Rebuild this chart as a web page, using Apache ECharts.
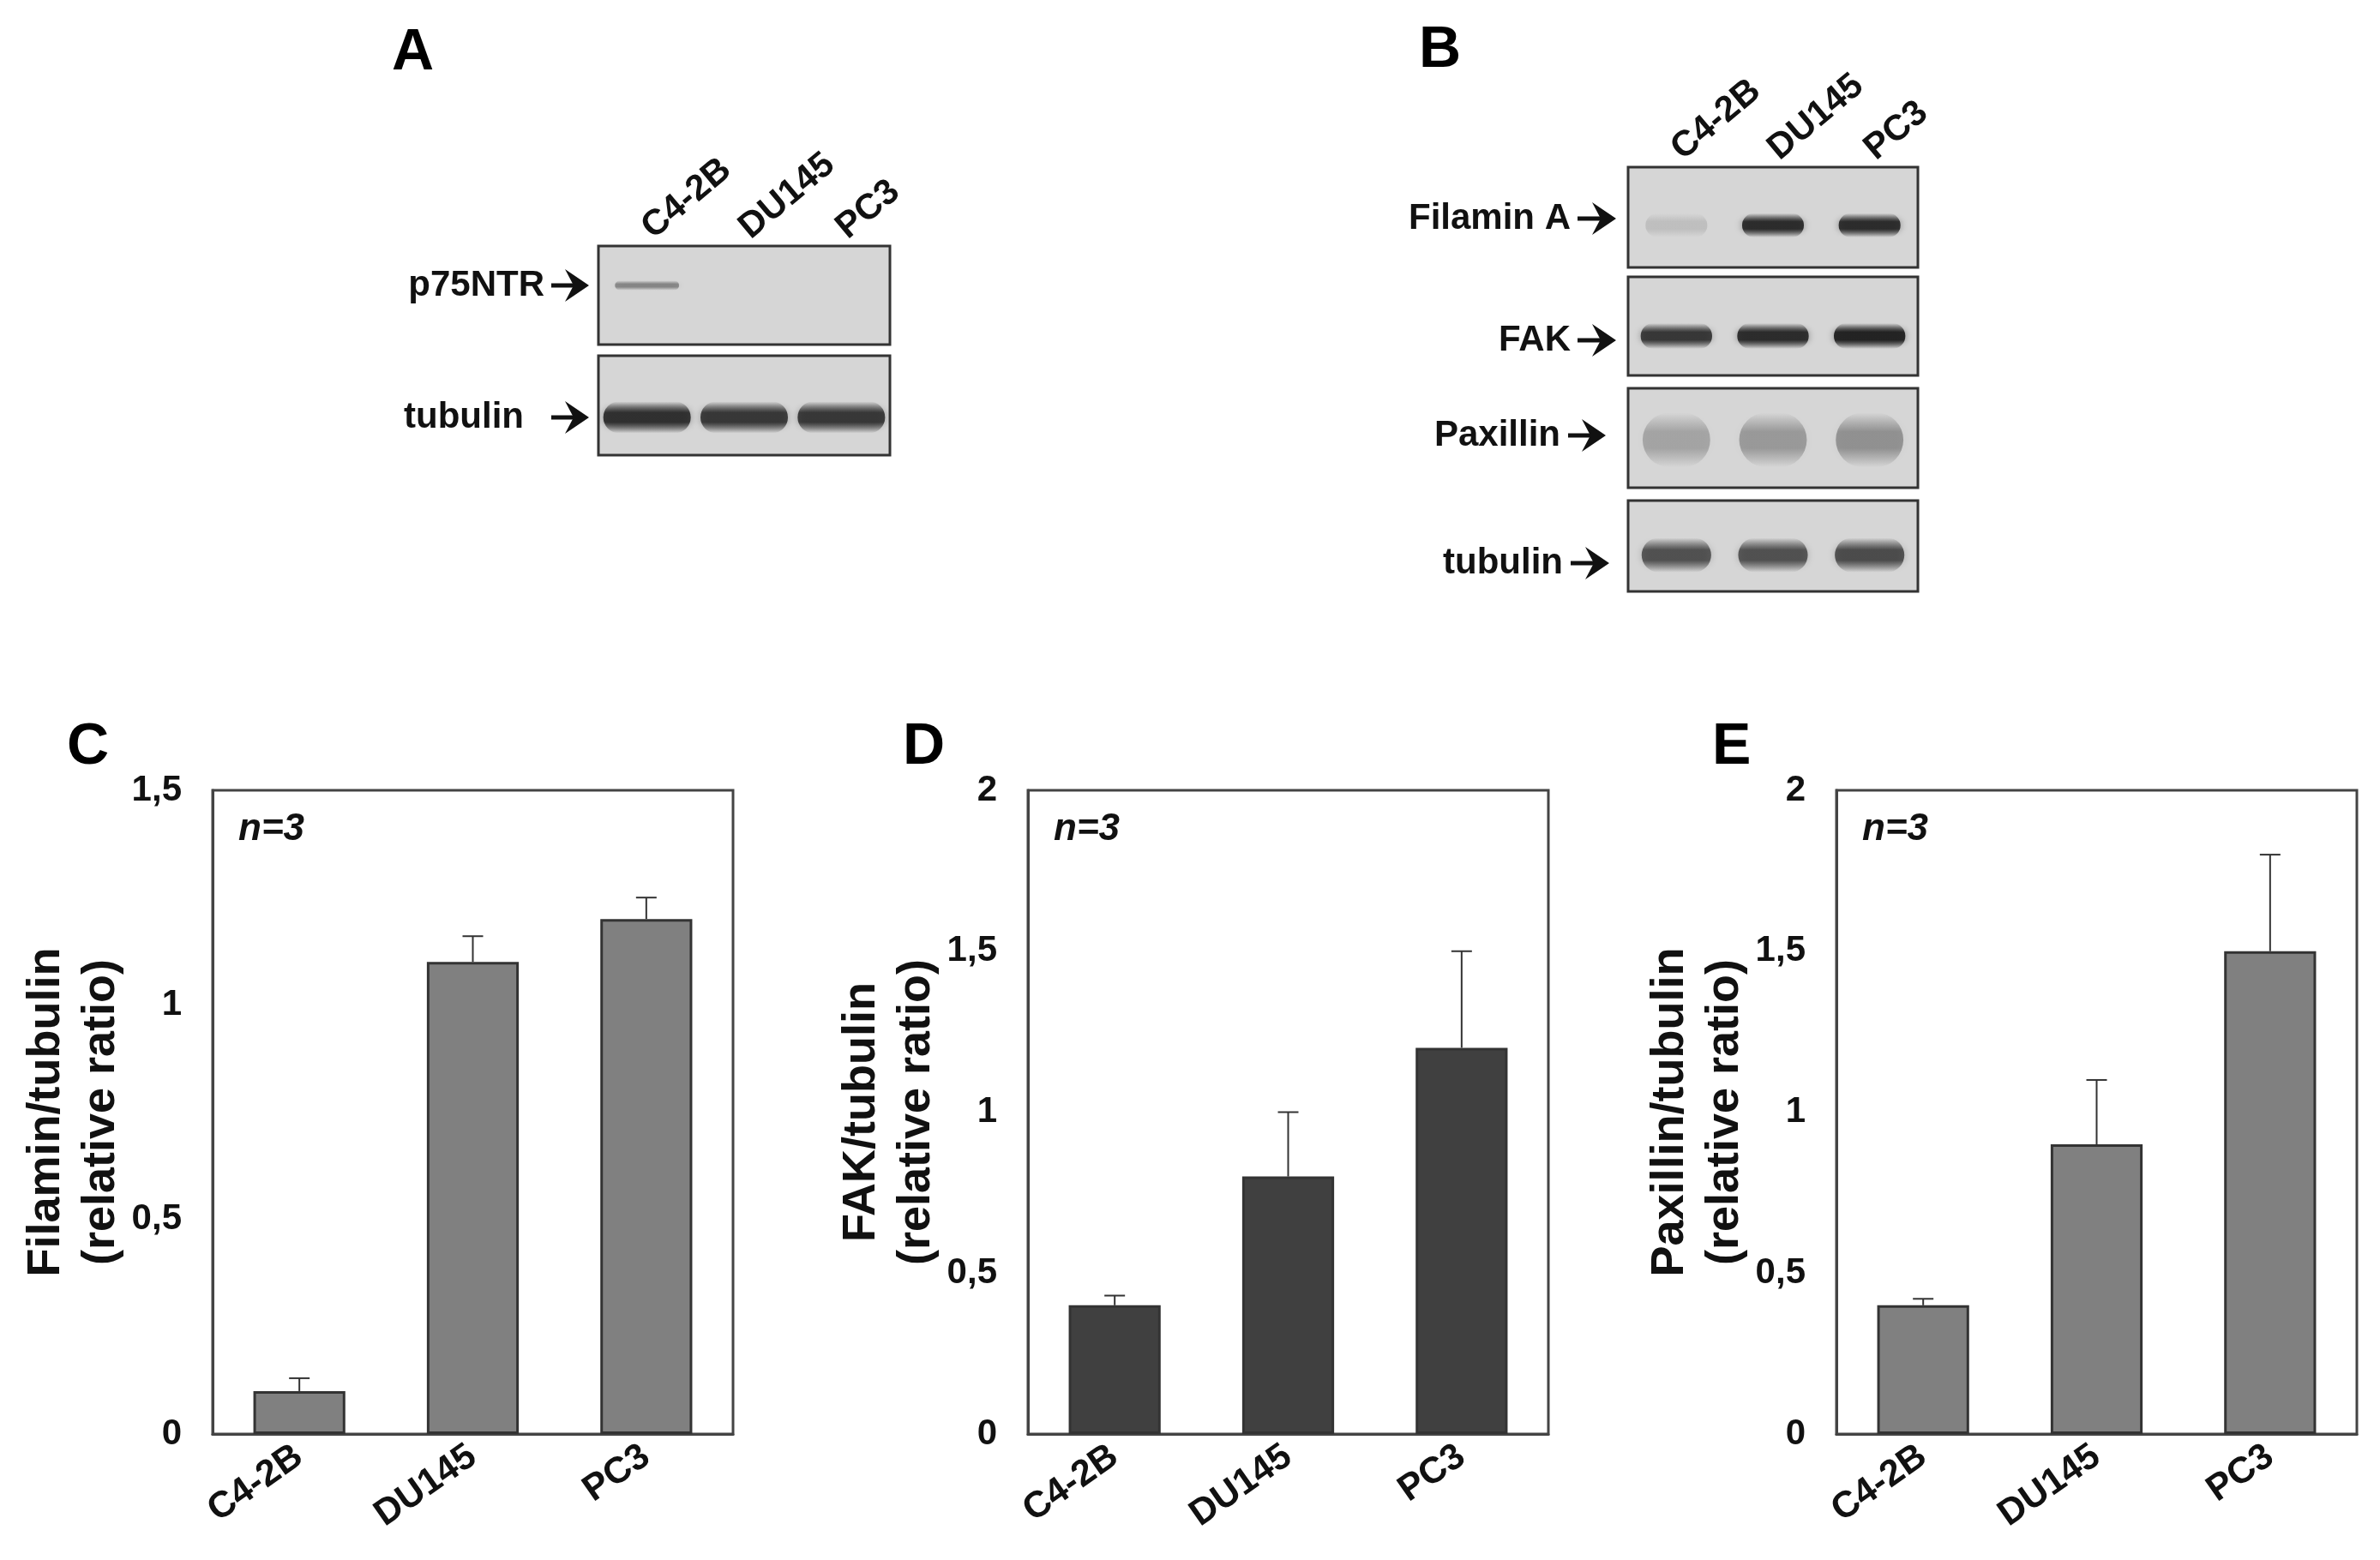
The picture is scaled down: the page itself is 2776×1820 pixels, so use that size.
<!DOCTYPE html>
<html>
<head>
<meta charset="utf-8">
<script src="https://cdn.jsdelivr.net/npm/echarts@6/dist/echarts.min.js"></script>
<style>
html, body { margin: 0; padding: 0; background: #fff; }
#main { width: 2776px; height: 1820px; }
</style>
</head>
<body>
<div id="main"></div>
<script>
// lanes / categories
var lanes = ['C4-2B', 'DU145', 'PC3'];

// western blot band intensities (0 = nothing, 1 = black)
var p75Intensity      = [0.4, 0, 0];
var tubulinAIntensity = [0.85, 0.8, 0.8];
var filaminIntensity  = [0.12, 0.88, 0.88];
var fakIntensity      = [0.8, 0.88, 0.95];
var paxillinIntensity = [0.25, 0.3, 0.34];
var tubulinBIntensity = [0.65, 0.65, 0.68];

// quantification (mean and top of the error bar)
var filaminMean = [0.1, 1.1, 1.2];
var filaminTop  = [0.13, 1.16, 1.25];
var fakMean     = [0.4, 0.8, 1.2];
var fakTop      = [0.43, 1.0, 1.5];
var paxMean     = [0.4, 0.9, 1.5];
var paxTop      = [0.42, 1.1, 1.8];

var yTicksC = [0, 0.5, 1, 1.5];
var yTicksDE = [0, 0.5, 1, 1.5, 2];

var FONT = 'Liberation Sans, Arial, Helvetica, sans-serif';
var myChart = echarts.init(document.getElementById('main'));

// blot strips: position + band shape (y of band in strip, thickness, width of lane)
var strips = [
    {name: 'p75NTR',    data: p75Intensity,      left: 698,  top: 287, w: 340, h: 115, by: 0.40, bh: 0.10, bw: 0.66, lbl: 635,  arr: [643, 687],   ay: 333, lanes: true},
    {name: 'tubulin',   data: tubulinAIntensity, left: 698,  top: 415, w: 340, h: 116, by: 0.62, bh: 0.32, bw: 0.9,  lbl: 611,  arr: [643, 687],   ay: 487},
    {name: 'Filamin A', data: filaminIntensity,  left: 1899, top: 195, w: 338, h: 117, by: 0.58, bh: 0.24, bw: 0.64, lbl: 1832, arr: [1840, 1885], ay: 255, lanes: true},
    {name: 'FAK',       data: fakIntensity,      left: 1899, top: 323, w: 338, h: 115, by: 0.60, bh: 0.26, bw: 0.74, lbl: 1832, arr: [1840, 1885], ay: 397},
    {name: 'Paxillin',  data: paxillinIntensity, left: 1899, top: 453, w: 338, h: 116, by: 0.52, bh: 0.55, bw: 0.7,  lbl: 1820, arr: [1829, 1873], ay: 508},
    {name: 'tubulin',   data: tubulinBIntensity, left: 1899, top: 584, w: 338, h: 106, by: 0.60, bh: 0.38, bw: 0.72, lbl: 1823, arr: [1832, 1877], ay: 657}
];

var charts = [
    {left: 248,  mean: filaminMean, top: filaminTop, max: 1.5, ticks: yTicksC,  color: '#808080', name: 'Filamin/tubulin\n(relative ratio)'},
    {left: 1199, mean: fakMean,     top: fakTop,     max: 2,   ticks: yTicksDE, color: '#404040', name: 'FAK/tubulin\n(relative ratio)'},
    {left: 2142, mean: paxMean,     top: paxTop,     max: 2,   ticks: yTicksDE, color: '#808080', name: 'Paxillin/tubulin\n(relative ratio)'}
];

var grid = [], xAxis = [], yAxis = [], series = [], graphic = [];

strips.forEach(function (s, k) {
    grid.push({
        left: s.left, top: s.top, width: s.w, height: s.h,
        show: true, backgroundColor: '#d6d6d6', borderColor: '#333', borderWidth: 3,
        outerBoundsMode: 'none', containLabel: false
    });
    xAxis.push({
        gridIndex: k, type: 'category', data: lanes, position: 'top',
        axisLine: {show: false}, axisTick: {show: false}, splitLine: {show: false},
        axisLabel: {show: !!s.lanes, rotate: 40, margin: 16, color: '#111', fontWeight: 'bold', fontSize: 42, fontFamily: FONT}
    });
    yAxis.push({gridIndex: k, type: 'value', min: 0, max: 1, inverse: true, show: false});
    series.push({
        type: 'custom', xAxisIndex: k, yAxisIndex: k, silent: true,
        data: s.data.map(function (v, i) { return [i, v]; }),
        renderItem: function (params, api) {
            var v = api.value(1);
            if (v <= 0) return null;
            var c = api.coord([api.value(0), s.by]);
            var sz = api.size([1, s.bh]);
            var bw = sz[0] * s.bw, bh = sz[1];
            var col = 'rgba(30,30,30,' + v + ')';
            var clear = 'rgba(30,30,30,0)';
            return {
                type: 'rect',
                shape: {x: c[0] - bw / 2, y: c[1] - bh / 2, width: bw, height: bh, r: bh / 2},
                style: {
                    fill: new echarts.graphic.LinearGradient(0, 0, 0, 1, [
                        {offset: 0, color: clear},
                        {offset: 0.35, color: col},
                        {offset: 0.65, color: col},
                        {offset: 1, color: clear}
                    ]),
                    shadowBlur: 8, shadowColor: 'rgba(30,30,30,' + (v * 0.5) + ')'
                }
            };
        }
    });
    // row label and arrow
    graphic.push({
        type: 'text', x: s.lbl, y: s.ay,
        style: {text: s.name, font: 'bold 42px ' + FONT, fill: '#111', align: 'right', verticalAlign: 'middle'}
    });
    graphic.push({
        type: 'group', x: s.arr[0], y: s.ay,
        children: [
            {type: 'line', shape: {x1: 0, y1: 0, x2: s.arr[1] - s.arr[0] - 10, y2: 0}, style: {stroke: '#111', lineWidth: 5}},
            {type: 'polygon', shape: {points: [[s.arr[1] - s.arr[0] - 28, -19], [s.arr[1] - s.arr[0], 0], [s.arr[1] - s.arr[0] - 28, 19], [s.arr[1] - s.arr[0] - 18, 0]]}, style: {fill: '#111'}}
        ]
    });
});

charts.forEach(function (c, j) {
    var k = strips.length + j;
    grid.push({
        left: c.left, top: 922, width: 607, height: 751,
        show: true, borderColor: '#444', borderWidth: 3,
        outerBoundsMode: 'none', containLabel: false
    });
    xAxis.push({
        gridIndex: k, type: 'category', data: lanes,
        axisLine: {lineStyle: {color: '#444', width: 3}}, axisTick: {show: false},
        axisLabel: {rotate: 35, margin: 22, color: '#111', fontWeight: 'bold', fontSize: 43, fontFamily: FONT, interval: 0}
    });
    yAxis.push({
        gridIndex: k, type: 'value', min: 0, max: c.max, interval: 0.5,
        axisLine: {show: true, lineStyle: {color: '#444', width: 3}}, axisTick: {show: false}, splitLine: {show: false},
        axisLabel: {margin: 36, color: '#111', fontWeight: 'bold', fontSize: 42, fontFamily: FONT,
            formatter: function (v) { return String(v).replace('.', ','); }},
        name: c.name, nameLocation: 'middle', nameRotate: 90, nameGap: 96,
        nameTextStyle: {color: '#111', fontWeight: 'bold', fontSize: 54, lineHeight: 64, fontFamily: FONT, align: 'center'}
    });
    series.push({
        type: 'bar', xAxisIndex: k, yAxisIndex: k, barWidth: '53%', silent: true,
        data: c.mean,
        itemStyle: {color: c.color, borderColor: '#333', borderWidth: 3}
    });
    // upper error bars
    series.push({
        type: 'custom', xAxisIndex: k, yAxisIndex: k, silent: true, z: 1,
        data: c.mean.map(function (m, i) { return [i, m, c.top[i]]; }),
        renderItem: function (params, api) {
            var lo = api.coord([api.value(0), api.value(1)]);
            var hi = api.coord([api.value(0), api.value(2)]);
            var st = {stroke: '#333', lineWidth: 2};
            return {
                type: 'group',
                children: [
                    {type: 'line', shape: {x1: lo[0], y1: lo[1], x2: hi[0], y2: hi[1]}, style: st},
                    {type: 'line', shape: {x1: hi[0] - 12, y1: hi[1], x2: hi[0] + 12, y2: hi[1]}, style: st}
                ]
            };
        }
    });
    graphic.push({
        type: 'text', x: c.left + 30, y: 968,
        style: {text: 'n=3', font: 'italic bold 44px ' + FONT, fill: '#111', verticalAlign: 'middle'}
    });
});

// panel letters
[['A', 457, 28], ['B', 1655, 25], ['C', 78, 838], ['D', 1053, 838], ['E', 1997, 838]].forEach(function (p) {
    graphic.push({type: 'text', x: p[1], y: p[2], style: {text: p[0], font: 'bold 68px ' + FONT, fill: '#000'}});
});

option = {
    backgroundColor: '#fff',
    animation: false,
    grid: grid,
    xAxis: xAxis,
    yAxis: yAxis,
    series: series,
    graphic: graphic
};
myChart.setOption(option);
</script>
</body>
</html>
